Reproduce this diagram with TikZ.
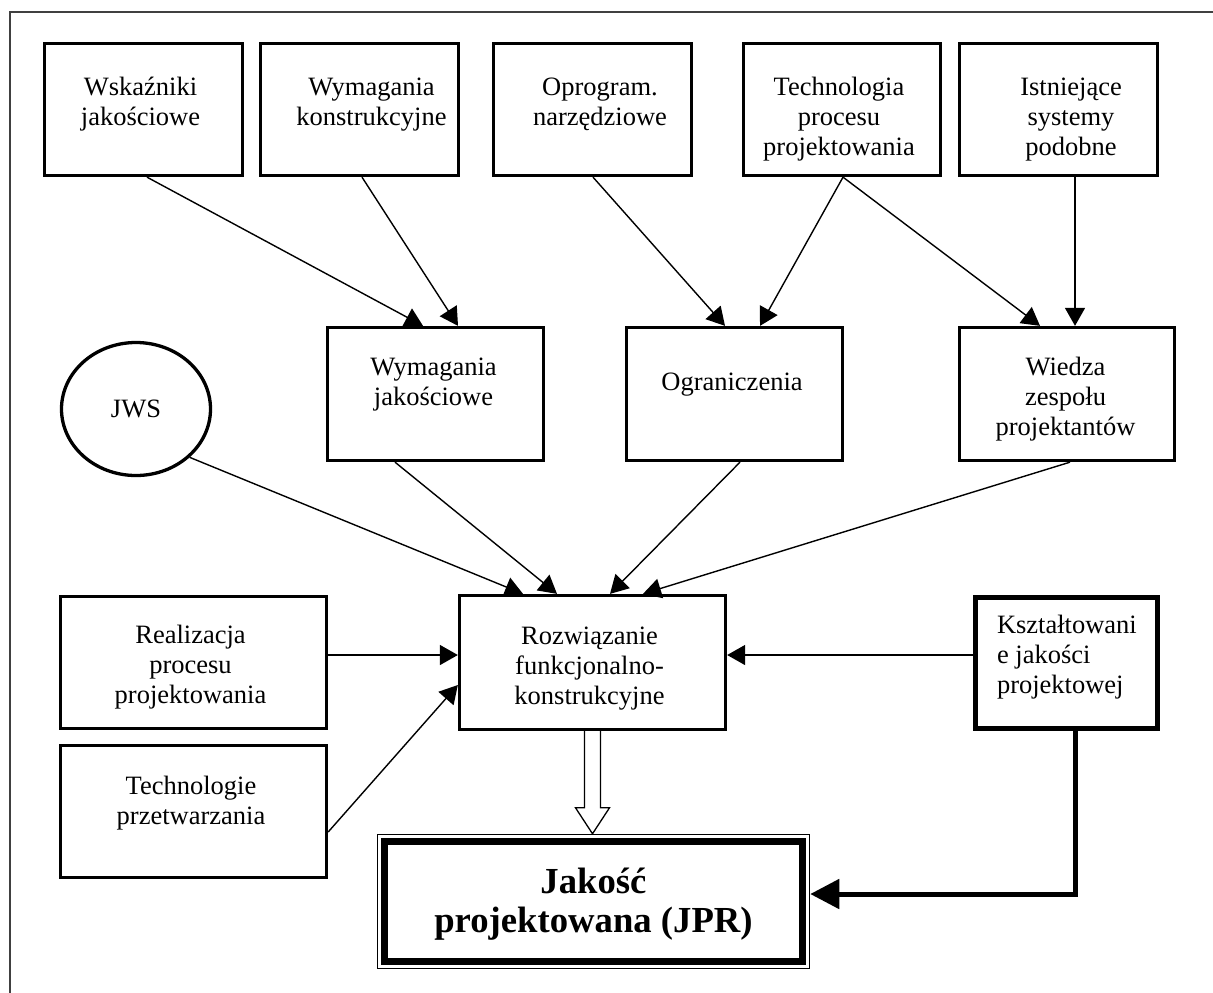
\documentclass[tikz,border=0pt]{standalone}
\usepackage{fontspec}
\setmainfont{Liberation Serif}
\usetikzlibrary{arrows.meta,shapes.geometric}
% #1 width, #2 height, #3 first baseline from top, #4 horizontal shift (x2), #5 text
\newcommand\bt[5]{\parbox[c][#2][t]{#1}{\centering\leftskip=#4 plus 1fil\relax\rule{0pt}{#3}#5\par}}
\newcommand\lt[5]{\parbox[c][#2][t]{#1}{\raggedright\leftskip=#4\relax\rule{0pt}{#3}#5\par}}
\begin{document}
\begin{tikzpicture}[x=0.5pt,y=-0.5pt,
  every node/.style={inner sep=0pt, font=\fontsize{13.25}{15}\selectfont},
  box/.style={draw, rectangle, line width=1.65pt},
  ell/.style={draw, ellipse, line width=1.65pt, minimum width=74.5pt, minimum height=66.5pt},
  arr/.style={line width=0.7pt, -{Triangle[length=9pt,width=10pt]}},
  frame/.style={line width=0.6pt, black!75}]
\useasboundingbox (0,0) rectangle (1213,992);
\draw[frame] (10,1000) -- (10,12) -- (1220,12);

% top row
\node[box] (wsk)  at (143.5,109.5) {\bt{99pt}{66pt}{25.75pt}{-3pt}{Wskaźniki\\jakościowe}};
\node[box] (wkon) at (359.5,109.5) {\bt{99pt}{66pt}{25.75pt}{12pt}{Wymagania\\konstrukcyjne}};
\node[box] (opr)  at (592.5,109.5) {\bt{99pt}{66pt}{25.75pt}{7.5pt}{Oprogram.\\narzędziowe}};
\node[box] (tech) at (842,109.5)   {\bt{98.5pt}{66pt}{25.75pt}{-3pt}{Technologia\\procesu\\projektowania}};
\node[box] (ist)  at (1058.5,109.5){\bt{99pt}{66pt}{25.75pt}{12.5pt}{Istniejące\\systemy\\podobne}};

% middle row
\node[box] (wjak) at (435.5,394) {\bt{108pt}{66.5pt}{23.75pt}{-2pt}{Wymagania\\jakościowe}};
\node[box] (ogr)  at (734.5,394) {\bt{108pt}{66.5pt}{31.25pt}{-2.5pt}{Ograniczenia}};
\node[box] (wied) at (1067,394)  {\bt{107.5pt}{66.5pt}{23.75pt}{-1.5pt}{Wiedza\\zespołu\\projektantów}};
\node[ell] (jws)  at (136,409) {JWS};

% bottom part
\node[box] (real)  at (193.5,662.5) {\bt{133pt}{66pt}{23.5pt}{-3pt}{Realizacja\\procesu\\projektowania}};
\node[box] (techp) at (193.5,811.5) {\bt{133pt}{66pt}{24.25pt}{-2.5pt}{Technologie\\przetwarzania}};
\node[box] (roz)   at (592.5,662.5) {\bt{133pt}{67pt}{24.25pt}{-3pt}{Rozwiązanie\\funkcjonalno-\\konstrukcyjne}};
\node[box, line width=2.5pt] (ksz) at (1066.5,662.5) {\lt{91pt}{65.5pt}{18.25pt}{10.75pt}{Kształtowani\\e jakości\\projektowej}};

\node[draw, line width=0.75pt, minimum width=216pt, minimum height=67pt] (jako) at (593.5,901.5) {};
\node[draw, line width=3.5pt] (jak) at (593.5,901.5) {\bt{209pt}{60pt}{26pt}{0pt}{\bfseries\fontsize{18.35}{19.3}\selectfont Jakość\\projektowana (JPR)}};

% connectors top -> middle
\draw[arr] ([xshift=1.75pt]wsk.south) -- ([xshift=-6.25pt]wjak.north);
\draw[arr] ([xshift=1.25pt]wkon.south) -- ([xshift=11.25pt]wjak.north);
\draw[arr] ([xshift=0.25pt]opr.south) -- ([xshift=-4.75pt]ogr.north);
\draw[arr] ([xshift=0.5pt]tech.south) -- ([xshift=12.75pt]ogr.north);
\draw[arr] ([xshift=0.5pt]tech.south) -- ([xshift=-13.5pt]wied.north);
\draw[arr] ([xshift=8.25pt]ist.south) -- ([xshift=8.25pt]ist.south |- wied.north);

% connectors -> Rozwiazanie
\draw[arr] (jws.-42) -- ([xshift=-34.75pt]roz.north);
\draw[arr] ([xshift=-20.25pt]wjak.south) -- ([xshift=-17.75pt]roz.north);
\draw[arr] ([xshift=2.75pt]ogr.south) -- ([xshift=8.75pt]roz.north);
\draw[arr] ([xshift=1.5pt]wied.south) -- ([xshift=25.25pt]roz.north);
\draw[arr] ([yshift=3.75pt]real.east) -- ([yshift=3.75pt]roz.west);
\draw[arr] ([yshift=-10.25pt]techp.east) -- ([yshift=-11.25pt]roz.west);
\draw[arr] ([yshift=3.75pt]ksz.west) -- ([yshift=3.75pt]roz.east);

% hollow arrow Rozwiazanie -> Jakosc
\coordinate (tip) at (roz.south |- jako.north);
\draw[line width=0.65pt, line join=miter, fill=white]
  ([xshift=-4pt]roz.south) -- ([xshift=-4pt,yshift=13pt]tip) -- ([xshift=-8.5pt,yshift=13pt]tip)
  -- (tip) -- ([xshift=8.5pt,yshift=13pt]tip) -- ([xshift=4pt,yshift=13pt]tip) -- ([xshift=4pt]roz.south);

% thick elbow arrow Ksztaltowanie -> Jakosc
\draw[line width=2.5pt, line join=miter, -{Triangle[length=14.5pt,width=14.5pt]}]
  ([xshift=4.25pt]ksz.south) |- ([yshift=3.75pt]jako.east);
\end{tikzpicture}
\end{document}
